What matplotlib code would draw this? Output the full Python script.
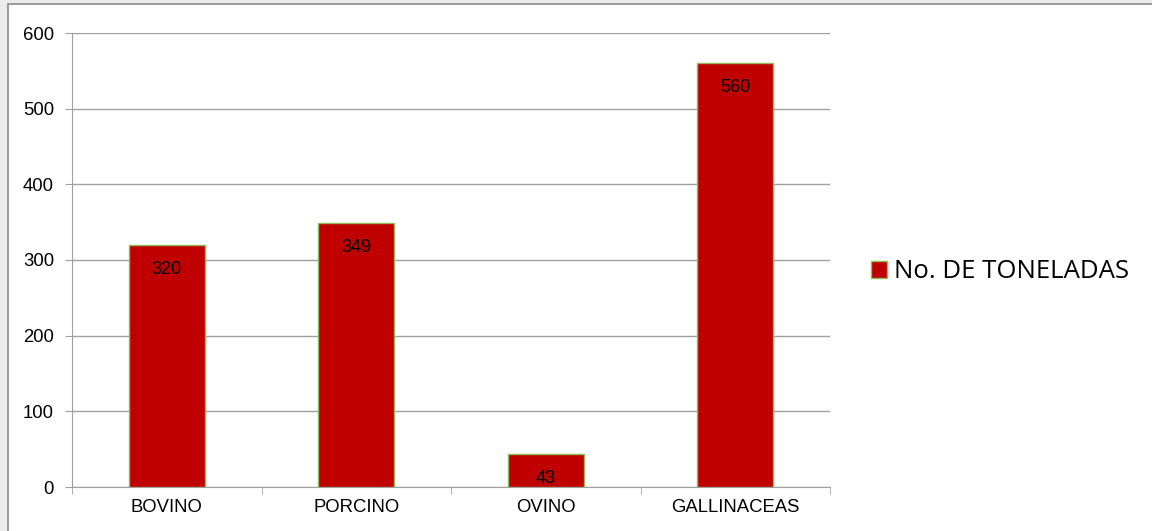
import matplotlib.pyplot as plt
from matplotlib.patches import Rectangle, Patch

categorias = ["BOVINO", "PORCINO", "OVINO", "GALLINACEAS"]
toneladas = [320, 349, 43, 560]
serie = "No. DE TONELADAS"
yticks = [0, 100, 200, 300, 400, 500, 600]

fig = plt.figure(figsize=(11.52, 5.31), dpi=100)
fig.patch.set_facecolor("#ececec")
# white sheet of the chart inside the screenshot frame
bg = fig.add_axes([0, 0, 1, 1], zorder=0)
bg.set_axis_off()
bg.add_patch(Rectangle((8 / 1152, -0.01), 1, 527 / 531 + 0.01, transform=fig.transFigure,
                       facecolor="white", edgecolor="#8a8a8a", linewidth=1.2))

ax = fig.add_axes([72 / 1152, 44 / 531, 758 / 1152, 454 / 531], zorder=2)
ax.set_facecolor("white")

x = list(range(len(categorias)))
bars = ax.bar(x, toneladas, width=0.4, color="#c00000", edgecolor="#8fbc5a",
              linewidth=1.0, zorder=3, label=serie)

for b, v in zip(bars, toneladas):
    ax.annotate(str(v), (b.get_x() + b.get_width() / 2, v), xytext=(0, -16),
                textcoords="offset pixels", ha="center", va="top",
                fontsize=13, family="Liberation Sans", color="black", zorder=4)

ax.set_xlim(-0.5, len(categorias) - 0.5)
ax.set_ylim(0, 600)
ax.set_yticks(yticks)
ax.set_yticklabels([str(t) for t in yticks], family="Liberation Sans", fontsize=13.3)
ax.set_xticks(x)
ax.set_xticklabels(categorias, family="Liberation Sans", fontsize=13.3)
ax.tick_params(axis="x", length=0, pad=9)
ax.tick_params(axis="y", length=5, color="#a0a0a0", pad=8)
# category boundary ticks
ax.set_xticks([i - 0.5 for i in range(len(categorias) + 1)], minor=True)
ax.tick_params(axis="x", which="minor", length=5, color="#a0a0a0")

ax.grid(axis="y", color="#a0a0a0", linewidth=1.0, zorder=0)
for s in ["top", "right"]:
    ax.spines[s].set_visible(False)
ax.spines["left"].set_color("#a0a0a0")
ax.spines["bottom"].set_color("#a0a0a0")

leg = fig.legend(handles=[Patch(facecolor="#c00000", edgecolor="#8fbc5a", label=serie)],
                 loc="center left", bbox_to_anchor=(848 / 1152, 259 / 531), frameon=False,
                 prop={"family": "Open Sans", "size": 18.5}, handlelength=0.62, handleheight=0.62,
                 handletextpad=0.28)
leg.set_zorder(3)

fig.savefig("out.png", dpi=100, facecolor=fig.get_facecolor())
